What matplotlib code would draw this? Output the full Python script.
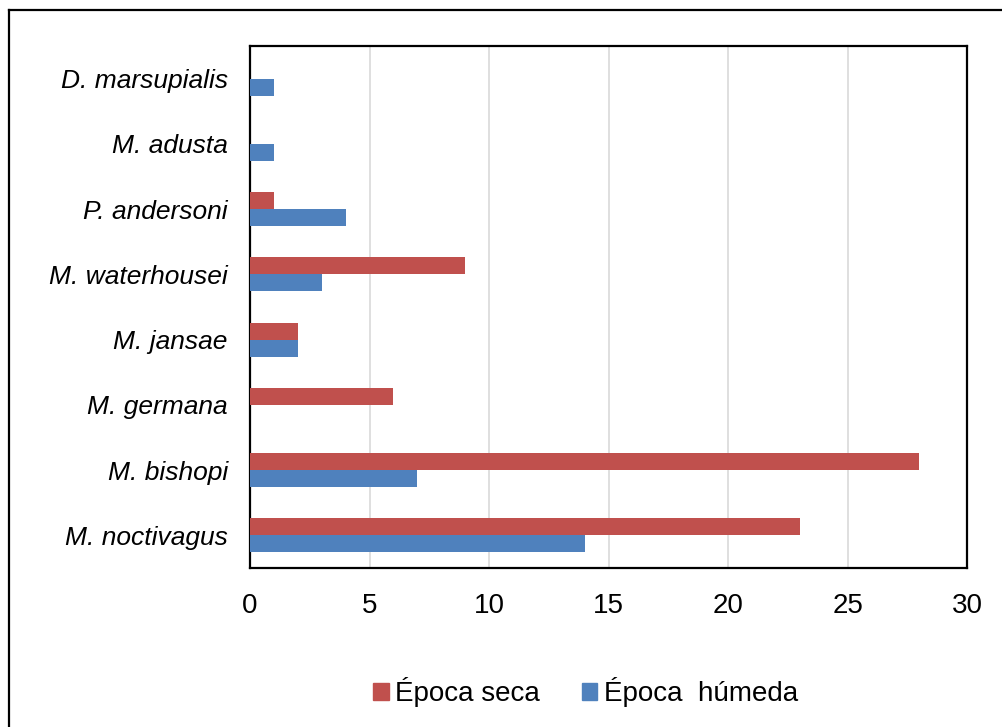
import numpy as np
import matplotlib
matplotlib.use("Agg")
import matplotlib.pyplot as plt
from matplotlib.lines import Line2D
from matplotlib.patches import Patch

# Section: Data
# ---
species = ["M. noctivagus", "M. bishopi", "M. germana", "M. jansae",
           "M. waterhousei", "P. andersoni", "M. adusta", "D. marsupialis"]
seca = [23, 28, 6, 2, 9, 1, 0, 0]
humeda = [14, 7, 0, 2, 3, 4, 1, 1]
xticks = [0, 5, 10, 15, 20, 25, 30]

red = "#C0504D"
blue = "#4F81BD"

plt.rcParams['font.family'] = ['Liberation Sans', 'DejaVu Sans']

# Section: Figure
# ---
fig = plt.figure(figsize=(10.03, 7.27), dpi=100)
ax = fig.add_axes([0.2493, 0.2187, 0.7149, 0.718])

y = np.arange(len(species))
h = 0.26
ax.barh(y + h / 2, seca, height=h, color=red, zorder=3)
ax.barh(y - h / 2, humeda, height=h, color=blue, zorder=3)

ax.set_xlim(0, 30)
ax.set_ylim(-0.5, len(species) - 0.5)
ax.set_xticks(xticks)
ax.set_yticks(y)
ax.set_yticklabels(species, fontstyle='italic', fontsize=19)
ax.tick_params(axis='x', length=0, pad=18, labelsize=20)
ax.tick_params(axis='y', length=0, pad=16)
ax.xaxis.grid(True, color="#D9D9D9", lw=1.2, zorder=0)
for s in ax.spines.values():
    s.set_linewidth(1.6)
    s.set_color("black")

# legend
handles = [Patch(color=red, label="Época seca"),
           Patch(color=blue, label="Época  húmeda")]
fig.legend(handles=handles, loc='center', bbox_to_anchor=(0.584, 0.048),
           ncol=2, frameon=False, fontsize=20, handlelength=0.55,
           handleheight=0.55, handletextpad=0.25, columnspacing=1.5)

# outer chart border (top and left only visible)
fig.add_artist(Line2D([0.009, 1.0], [0.986, 0.986], color="black", lw=1.6,
                      transform=fig.transFigure))
fig.add_artist(Line2D([0.009, 0.009], [0.0, 0.986], color="black", lw=1.6,
                      transform=fig.transFigure))

fig.savefig("out.png", dpi=100)
